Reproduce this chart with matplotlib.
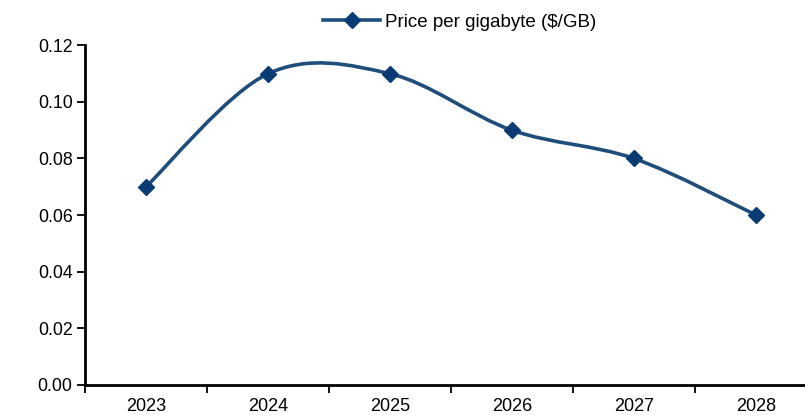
import numpy as np
import matplotlib
matplotlib.use("Agg")
import matplotlib.pyplot as plt
from matplotlib.path import Path
from matplotlib.patches import PathPatch
from matplotlib.lines import Line2D

plt.rcParams['font.family'] = ['Liberation Sans', 'DejaVu Sans']

years = ["2023", "2024", "2025", "2026", "2027", "2028"]
price_per_gb = [0.07, 0.11, 0.11, 0.09, 0.08, 0.06]
y_ticks = [0.00, 0.02, 0.04, 0.06, 0.08, 0.10, 0.12]

line_color = "#1F4E7C"
marker_color = "#0B3B74"

fig = plt.figure(figsize=(8.05, 4.15), dpi=100)
ax = fig.add_axes([85 / 805, (415 - 384.5) / 415, (817 - 85) / 805, (384.5 - 45.5) / 415])

x = np.arange(len(years), dtype=float)
y = np.array(price_per_gb)

# Smoothed curve: Catmull-Rom segments expressed as cubic Beziers
pts = np.column_stack([x, y])
verts = [tuple(pts[0])]
codes = [Path.MOVETO]
n = len(pts)
for i in range(n - 1):
    p0 = pts[i - 1] if i > 0 else pts[i]
    p1 = pts[i]
    p2 = pts[i + 1]
    p3 = pts[i + 2] if i + 2 < n else pts[i + 1]
    c1 = p1 + (p2 - p0) / 6.0
    c2 = p2 - (p3 - p1) / 6.0
    verts += [tuple(c1), tuple(c2), tuple(p2)]
    codes += [Path.CURVE4] * 3
ax.add_patch(PathPatch(Path(verts, codes), facecolor="none", edgecolor=line_color,
                       lw=2.6, capstyle="round", zorder=2))
ax.plot(x, y, linestyle="none", marker="D", markersize=8.5, color=marker_color, zorder=3)

ax.set_xlim(-0.5, len(years) - 0.5)
ax.set_ylim(0, 0.12)
ax.set_yticks(y_ticks)
ax.set_yticklabels([f"{v:.2f}" for v in y_ticks])

# category boundaries carry the tick marks, labels sit at category centres
ax.set_xticks(np.arange(len(years) + 1) - 0.5)
ax.set_xticklabels([])
ax.set_xticks(x, minor=True)
ax.set_xticklabels(years, minor=True)
ax.tick_params(axis="x", which="major", length=6, width=1.3, direction="out", color="black")
ax.tick_params(axis="x", which="minor", length=0, pad=10, labelsize=13)
ax.tick_params(axis="y", length=6, width=1.3, direction="out", labelsize=12.8, pad=3)

for s in ["top", "right"]:
    ax.spines[s].set_visible(False)
for s in ["left", "bottom"]:
    ax.spines[s].set_linewidth(2)
    ax.spines[s].set_color("black")

handle = Line2D([], [], color=line_color, lw=2.6, marker="D", markersize=8.5,
                markerfacecolor=marker_color, markeredgecolor=marker_color)
fig.legend([handle], ["Price per gigabyte ($/GB)"], loc="center",
           bbox_to_anchor=(460 / 805, 1 - 22 / 415), frameon=False,
           fontsize=13.5, handlelength=3.0, handletextpad=0.3)

fig.savefig("out.png", dpi=100)
